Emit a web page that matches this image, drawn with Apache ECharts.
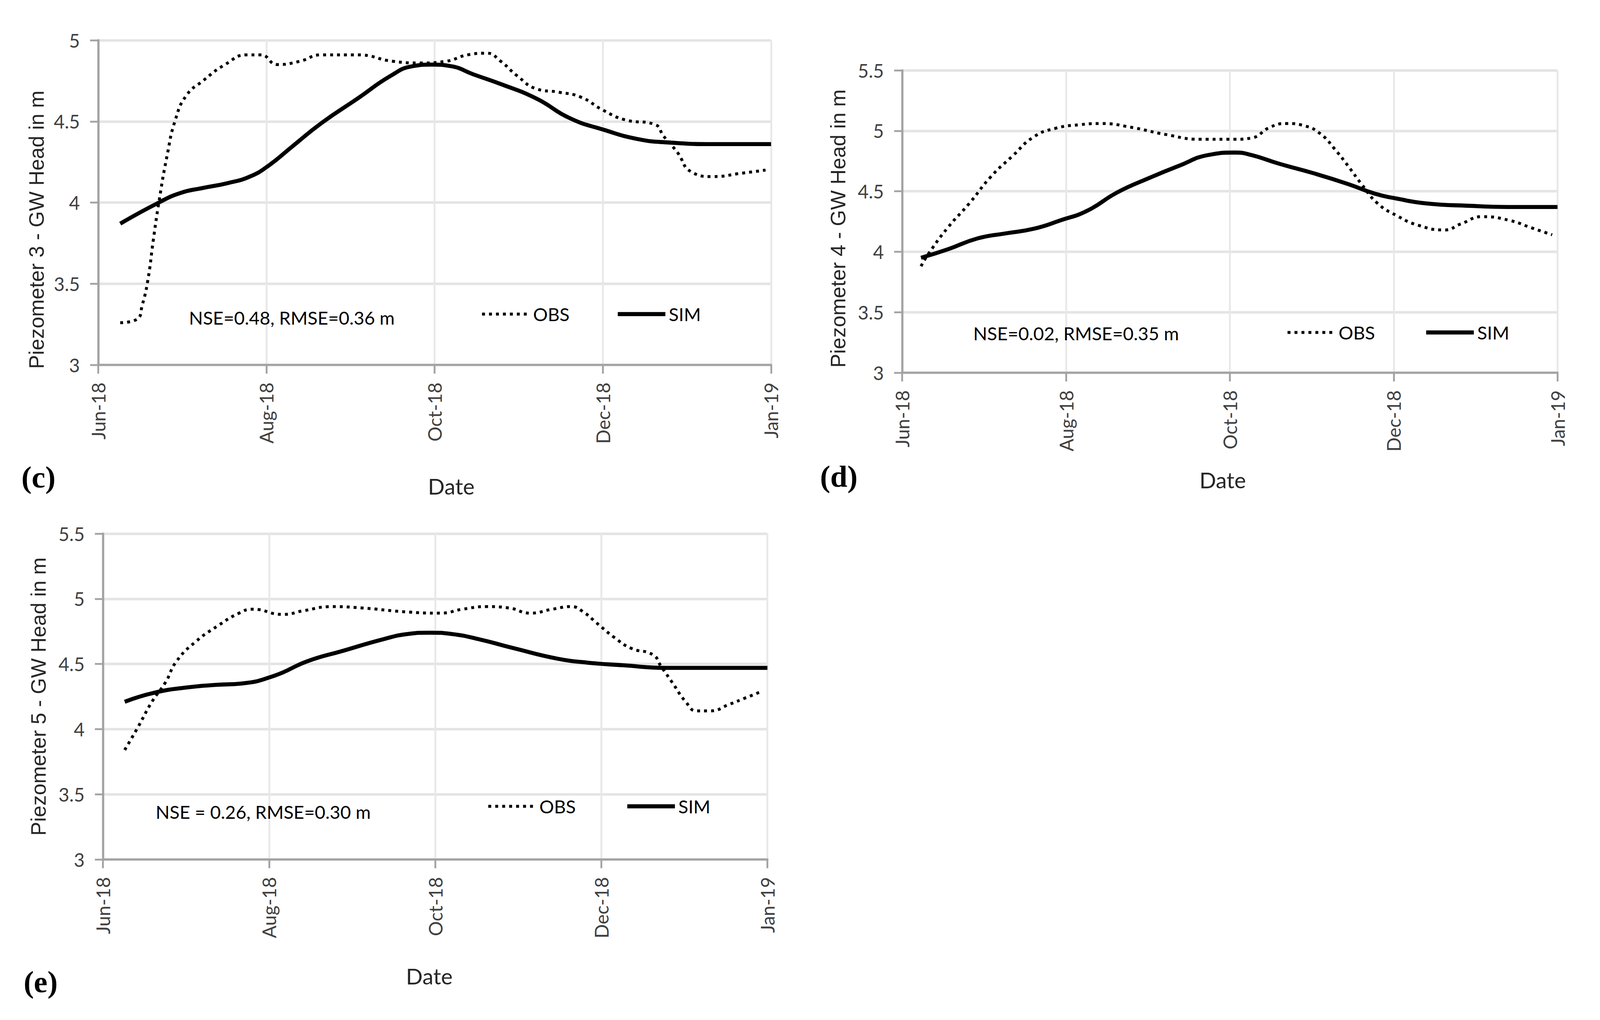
<!DOCTYPE html>
<html>
<head>
<meta charset="utf-8">
<script src="https://cdn.jsdelivr.net/npm/echarts@6/dist/echarts.min.js"></script>
<style>html,body{margin:0;padding:0;background:#fff;overflow:hidden;}#chart{width:100vw;height:100vh;}</style>
</head>
<body>
<div id="chart"></div>
<script>
// x values are days since 1 Jun 2018 (axis ticks every 61 days)
const tickLabels = ['Jun-18', 'Aug-18', 'Oct-18', 'Dec-18', 'Jan-19'];

// Piezometer 3 (c)
const daysC_obs = [8,14,16,18,20,22,25,28,32,38,46,54,59,65,73,81,94,107,117,126,134,141,146,152,159,167,175,183,191,202,205,210,215,223,233,242];
const headC_obs = [3.26,3.28,3.37,3.52,3.77,4.00,4.29,4.51,4.66,4.75,4.85,4.91,4.91,4.85,4.87,4.91,4.91,4.87,4.86,4.87,4.91,4.92,4.87,4.78,4.70,4.68,4.65,4.57,4.51,4.48,4.41,4.31,4.19,4.16,4.18,4.20];
const daysC_sim = [8,22,30,38,47,55,62,70,81,94,106,114,121,128,136,146,159,171,183,196,207,223,244];
const headC_sim = [3.87,4.00,4.06,4.09,4.12,4.16,4.23,4.34,4.49,4.64,4.78,4.84,4.85,4.84,4.79,4.73,4.64,4.52,4.45,4.39,4.37,4.36,4.36];

// Piezometer 4 (d)
const daysD_obs = [7,10,17,25,33,41,49,57,66,74,85,98,111,124,130,137,143,150,156,161,166,171,177,184,192,202,208,216,226,234,242];
const headD_obs = [3.88,3.99,4.20,4.40,4.62,4.79,4.95,5.02,5.05,5.06,5.03,4.97,4.93,4.93,4.94,5.03,5.06,5.04,4.97,4.85,4.71,4.56,4.40,4.30,4.22,4.18,4.23,4.29,4.26,4.20,4.14];
const daysD_sim = [7,17,28,38,49,59,69,80,92,103,114,124,130,140,153,166,176,184,195,211,228,244];
const headD_sim = [3.95,4.02,4.11,4.15,4.19,4.26,4.34,4.49,4.61,4.71,4.80,4.82,4.80,4.73,4.65,4.56,4.48,4.44,4.40,4.38,4.37,4.37];

// Piezometer 5 (e)
const daysE_obs = [8,13,18,23,27,34,42,50,55,66,74,84,95,111,124,132,141,149,157,165,172,177,181,188,194,202,205,209,214,218,223,230,236,242];
const headE_obs = [3.84,4.02,4.21,4.36,4.52,4.67,4.79,4.89,4.92,4.88,4.91,4.94,4.93,4.90,4.89,4.92,4.94,4.93,4.89,4.92,4.94,4.89,4.82,4.70,4.62,4.57,4.48,4.36,4.21,4.14,4.14,4.19,4.24,4.29];
const daysE_sim = [8,19,31,42,51,63,75,88,103,112,120,128,138,151,167,178,191,207,223,244];
const headE_sim = [4.21,4.28,4.32,4.34,4.35,4.41,4.52,4.60,4.69,4.73,4.74,4.73,4.69,4.62,4.54,4.51,4.49,4.47,4.47,4.47];

const yTitles = ['Piezometer 3 - GW Head in m', 'Piezometer 4 - GW Head in m', 'Piezometer 5 - GW Head in m'];
const statTexts = ['NSE=0.48, RMSE=0.36 m', 'NSE=0.02, RMSE=0.35 m', 'NSE = 0.26, RMSE=0.30 m'];
const panelLabels = ['(c)', '(d)', '(e)'];
const yMax = [5, 5.5, 5.5];

const zip = (a, b) => a.map((v, i) => [v, b[i]]);

// layout designed for a 4368 x 2611 canvas, scaled to the actual viewport
const dom = document.getElementById('chart');
const W = dom.clientWidth || window.innerWidth;
const H = dom.clientHeight || window.innerHeight;
const sx = W / 4368, sy = H / 2611, sf = Math.min(sx, sy);
const X = v => v * sx, Y = v => v * sy, S = v => v * sf;

const gridsRef = [
  [268, 103, 1837, 831],
  [2463, 180, 1789, 774],
  [281, 1366, 1814, 834]
];
const yTitlePos = [[100, 588], [2288, 585], [105, 1783]];
const datePos = [[1232, 1244], [3338, 1228], [1172, 2498]];
const panelPos = [[105, 1221], [2290, 1219], [111, 2513]];
const statPos = [[516, 813], [2657, 853], [425, 2078]];
const legObs = [[1312, 804], [3511, 851], [1329, 2064]];
const legSim = [[1681, 804], [3888, 851], [1707, 2064]];

const labelFont = 'Lato, "Open Sans", sans-serif';
const axisColor = '#a3a3a3';
const obsWidth = 8, simWidth = 11;

const grids = gridsRef.map(g => ({left: X(g[0]), top: Y(g[1]), width: X(g[2]), height: Y(g[3])}));

const xAxes = grids.map((g, i) => ({
  type: 'value', gridIndex: i, min: 0, max: 244, interval: 61,
  axisLine: {show: true, lineStyle: {color: axisColor, width: S(6)}},
  axisTick: {show: true, length: S(24), lineStyle: {color: axisColor, width: S(5)}},
  axisLabel: {
    rotate: 90, margin: S(48), fontSize: S(51), fontFamily: labelFont, color: '#404040',
    formatter: v => tickLabels[Math.round(v / 61)] || ''
  },
  splitLine: {show: true, lineStyle: {color: '#e8e8e8', width: S(5)}}
}));

const yAxes = grids.map((g, i) => ({
  type: 'value', gridIndex: i, min: 3, max: yMax[i], interval: 0.5,
  axisLine: {show: true, lineStyle: {color: axisColor, width: S(6)}},
  axisTick: {show: true, length: S(22), lineStyle: {color: axisColor, width: S(5)}},
  axisLabel: {margin: S(50), fontSize: S(51), fontFamily: labelFont, color: '#404040'},
  splitLine: {show: true, lineStyle: {color: '#e4e4e4', width: S(7)}}
}));

const obsData = [zip(daysC_obs, headC_obs), zip(daysD_obs, headD_obs), zip(daysE_obs, headE_obs)];
const simData = [zip(daysC_sim, headC_sim), zip(daysD_sim, headD_sim), zip(daysE_sim, headE_sim)];

const obsDash = [S(8), S(11)];
const series = [];
for (let i = 0; i < 3; i++) {
  series.push({
    name: 'OBS', type: 'line', xAxisIndex: i, yAxisIndex: i, data: obsData[i],
    smooth: 0.5, symbol: 'none', showSymbol: false,
    lineStyle: {color: '#000', width: S(obsWidth), type: obsDash, cap: 'butt'},
    itemStyle: {color: '#000'}, animation: false
  });
  series.push({
    name: 'SIM', type: 'line', xAxisIndex: i, yAxisIndex: i, data: simData[i],
    smooth: 0.5, symbol: 'none', showSymbol: false,
    lineStyle: {color: '#000', width: S(simWidth), type: 'solid'},
    itemStyle: {color: '#000'}, animation: false
  });
}

const legends = [];
for (let i = 0; i < 3; i++) {
  [[legObs[i], 'OBS', {color: '#000', width: S(obsWidth), type: obsDash, cap: 'butt'}],
   [legSim[i], 'SIM', {color: '#000', width: S(simWidth), type: 'solid'}]].forEach(([p, name, ls]) => {
    legends.push({
      left: X(p[0]), top: Y(p[1]) - S(26), data: [name], itemWidth: X(130), itemHeight: S(20),
      selectedMode: false, padding: 0, z: 20,
      itemStyle: {opacity: 0},
      lineStyle: ls,
      textStyle: {fontSize: S(50), lineHeight: S(52), fontFamily: labelFont, color: '#000', padding: [0, 0, 0, S(4)]}
    });
  });
}

const graphics = [];
for (let i = 0; i < 3; i++) {
  graphics.push({
    type: 'text', z: 100, x: X(yTitlePos[i][0]), y: Y(yTitlePos[i][1]), rotation: Math.PI / 2,
    style: {text: yTitles[i], fontSize: S(57), fontFamily: '"Liberation Sans", Arial, sans-serif', fill: '#262626', align: 'center', verticalAlign: 'middle'}
  });
  graphics.push({
    type: 'text', z: 100, x: X(datePos[i][0]), y: Y(datePos[i][1]),
    style: {text: 'Date', fontSize: S(60), fontFamily: labelFont, fill: '#262626', align: 'center', verticalAlign: 'middle'}
  });
  graphics.push({
    type: 'text', z: 100, x: X(panelPos[i][0]), y: Y(panelPos[i][1]),
    style: {text: panelLabels[i], fontSize: S(84), fontWeight: 'bold', fontFamily: '"Liberation Serif", "Times New Roman", serif', fill: '#000', align: 'center', verticalAlign: 'middle'}
  });
  graphics.push({
    type: 'text', z: 100, x: X(statPos[i][0]), y: Y(statPos[i][1]),
    style: {text: statTexts[i], fontSize: S(50), fontFamily: labelFont, fill: '#000', align: 'left', verticalAlign: 'middle'}
  });
}

const chart = echarts.init(dom, null, {renderer: 'svg'});
chart.setOption({
  backgroundColor: '#fff',
  animation: false,
  grid: grids,
  xAxis: xAxes,
  yAxis: yAxes,
  legend: legends,
  series: series,
  graphic: graphics
});
</script>
</body>
</html>
